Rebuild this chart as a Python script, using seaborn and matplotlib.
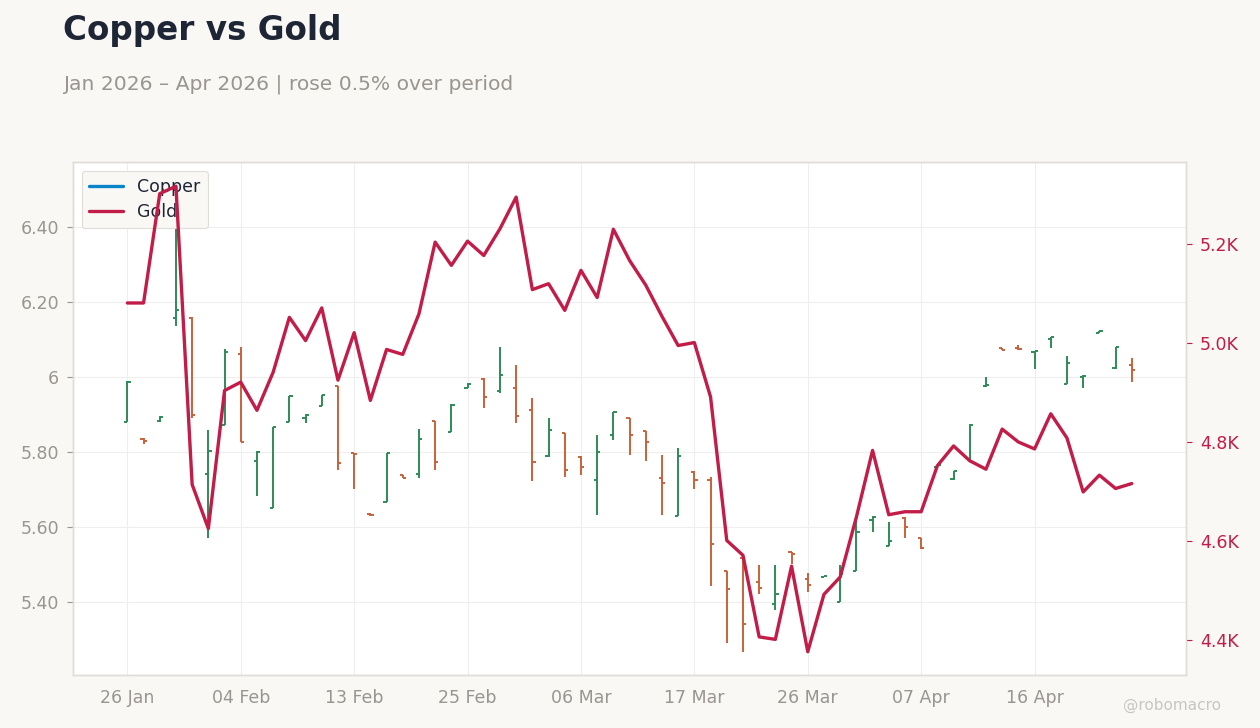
# Copper (OHLC bars) vs Gold (line, right axis)
import pandas as pd
import seaborn as sns
import matplotlib.pyplot as plt
from matplotlib.ticker import FuncFormatter
from matplotlib.lines import Line2D

# trading days, 26 Jan - 24 Apr 2026 (Presidents Day and Good Friday closed)
dates = pd.bdate_range("2026-01-26", "2026-04-24", freq="C",
                       holidays=["2026-02-16", "2026-04-03"])

copper_open = [5.880, 5.835, 5.882, 6.158, 6.157, 5.740, 5.871, 6.062, 5.776, 5.651,
               5.880, 5.889, 5.922, 5.975, 5.797, 5.635, 5.666, 5.738, 5.742, 5.882,
               5.853, 5.971, 5.994, 5.962, 5.969, 5.911, 5.789, 5.849, 5.786, 5.724,
               5.846, 5.889, 5.855, 5.729, 5.629, 5.746, 5.724, 5.481, 5.516, 5.452,
               5.393, 5.532, 5.462, 5.466, 5.400, 5.483, 5.618, 5.549, 5.624, 5.570,
               5.760, 5.727, 5.780, 5.975, 6.077, 6.077, 6.067, 6.101, 5.981, 6.000,
               6.117, 6.023, 6.031]
copper_high = [5.990, 5.837, 5.895, 6.510, 6.160, 5.858, 6.074, 6.080, 5.802, 5.866,
               5.950, 5.900, 5.952, 5.976, 5.798, 5.636, 5.798, 5.739, 5.860, 5.883,
               5.927, 5.984, 5.998, 6.080, 6.031, 5.944, 5.889, 5.850, 5.790, 5.844,
               5.906, 5.890, 5.856, 5.791, 5.809, 5.748, 5.733, 5.482, 5.517, 5.498,
               5.498, 5.534, 5.476, 5.469, 5.498, 5.618, 5.630, 5.613, 5.626, 5.571,
               5.766, 5.749, 5.873, 6.000, 6.078, 6.085, 6.070, 6.107, 6.056, 6.004,
               6.122, 6.080, 6.049]
copper_low = [5.880, 5.822, 5.880, 6.135, 5.890, 5.569, 5.871, 5.825, 5.682, 5.650,
              5.879, 5.876, 5.921, 5.751, 5.700, 5.630, 5.665, 5.729, 5.731, 5.751,
              5.852, 5.969, 5.916, 5.958, 5.878, 5.722, 5.787, 5.732, 5.738, 5.631,
              5.831, 5.791, 5.775, 5.631, 5.628, 5.700, 5.442, 5.291, 5.267, 5.422,
              5.378, 5.500, 5.427, 5.465, 5.399, 5.482, 5.587, 5.548, 5.571, 5.542,
              5.758, 5.726, 5.775, 5.974, 6.071, 6.071, 6.022, 6.078, 5.980, 5.969,
              6.116, 6.022, 5.985]
copper_close = [5.985, 5.828, 5.893, 6.177, 5.899, 5.803, 6.065, 5.827, 5.800, 5.865,
                5.949, 5.898, 5.951, 5.771, 5.793, 5.631, 5.797, 5.731, 5.833, 5.774,
                5.926, 5.982, 5.947, 6.006, 5.896, 5.773, 5.857, 5.752, 5.759, 5.800,
                5.905, 5.846, 5.825, 5.716, 5.789, 5.726, 5.555, 5.433, 5.341, 5.438,
                5.422, 5.528, 5.446, 5.468, 5.473, 5.587, 5.626, 5.563, 5.599, 5.543,
                5.765, 5.748, 5.872, 5.978, 6.072, 6.073, 6.069, 6.105, 6.038, 6.003,
                6.121, 6.079, 6.017]

gold = [5081, 5081, 5302, 5317, 4714, 4625, 4904, 4921, 4864, 4941,
        5052, 5005, 5071, 4925, 5021, 4884, 4987, 4977, 5059, 5204,
        5157, 5206, 5177, 5231, 5295, 5108, 5120, 5066, 5147, 5092,
        5230, 5167, 5117, 5054, 4995, 5001, 4891, 4601, 4571, 4406,
        4401, 4549, 4376, 4492, 4527, 4648, 4783, 4653, 4659, 4659,
        4752, 4792, 4762, 4745, 4826, 4800, 4786, 4857, 4808, 4699,
        4733, 4706, 4716]

left_ticks = [5.40, 5.60, 5.80, 6.00, 6.20, 6.40]
left_labels = ["5.40", "5.60", "5.80", "6", "6.20", "6.40"]
right_ticks = [4400, 4600, 4800, 5000, 5200]

df = pd.DataFrame({"date": dates, "open": copper_open, "high": copper_high,
                   "low": copper_low, "close": copper_close, "gold": gold})
df["i"] = range(len(df))

# colours
BG = "#F9F8F5"
UP = "#2E8B57"
DOWN = "#C8623B"
GOLD = "#C21D48"
COPPER = "#0A84C8"
GREY = "#999590"
EDGE = "#E0DDD8"

sns.set_theme(style="whitegrid")
plt.rcParams["font.family"] = ["DejaVu Sans"]

fig = plt.figure(figsize=(12.6, 7.28), dpi=100, facecolor=BG)
ax = fig.add_axes([0.058, 0.0728, 0.8833, 0.7047])
ax.set_facecolor("white")

# OHLC bars for copper
colors = [UP if c >= o else DOWN for o, c in zip(df["open"], df["close"])]
w = 0.2
ax.vlines(df["i"], df["low"], df["high"], colors=colors, linewidth=1.4)
ax.hlines(df["open"], df["i"] - w, df["i"], colors=colors, linewidth=1.4)
ax.hlines(df["close"], df["i"], df["i"] + w, colors=colors, linewidth=1.4)

ax.set_xlim(-3.35, 65.35)
ax.set_ylim(5.205, 6.573)
ax.set_yticks(left_ticks)
ax.set_yticklabels(left_labels)
xt = list(range(0, len(df), 7))
ax.set_xticks(xt)
ax.set_xticklabels([df["date"][k].strftime("%d %b") for k in xt])
ax.grid(color="#EEEEEE", linewidth=0.8)
ax.tick_params(colors=GREY, labelsize=12.5, length=4, width=0.8, pad=6)
ax.tick_params(axis="x", pad=6)
for s in ax.spines.values():
    s.set_color(EDGE)
    s.set_linewidth(1)
ax.set_xlabel("")
ax.set_ylabel("")

# gold on the right axis
ax2 = ax.twinx()
sns.lineplot(data=df, x="i", y="gold", ax=ax2, color=GOLD, linewidth=2.4)
ax2.set_ylim(4329, 5366)
ax2.set_yticks(right_ticks)
ax2.yaxis.set_major_formatter(FuncFormatter(lambda v, p: f"{v/1000:.1f}K"))
ax2.tick_params(axis="y", colors=GOLD, labelsize=12.5, length=4, width=0.8, pad=6)
ax2.grid(False)
ax2.set_xlabel("")
ax2.set_ylabel("")
for s in ax2.spines.values():
    s.set_color(EDGE)
    s.set_linewidth(1)

# legend sits on the primary axes (gold line overlays it)
handles = [Line2D([], [], color=COPPER, linewidth=2.4),
           Line2D([], [], color=GOLD, linewidth=2.4)]
leg = ax.legend(handles, ["Copper", "Gold"], loc="upper left", fontsize=12.5,
                frameon=True, facecolor=BG, edgecolor=EDGE, framealpha=1,
                borderpad=0.4, handlelength=2.0, labelspacing=0.45)
leg.get_frame().set_linewidth(0.8)
for t in leg.get_texts():
    t.set_color("#1E2535")

fig.text(0.05, 1 - 14 / 728, "Copper vs Gold", fontsize=23.5, fontweight="bold",
         color="#1E2535", va="top", ha="left")
fig.text(0.05, 1 - 75 / 728, "Jan 2026 – Apr 2026 | rose 0.5% over period",
         fontsize=14.6, color=GREY, va="top", ha="left")
fig.text(1221 / 1260, 1 - 705 / 728, "@robomacro", fontsize=11, color="#C8C6C2",
         va="center", ha="right")

fig.savefig("out.png", dpi=100, facecolor=BG)
